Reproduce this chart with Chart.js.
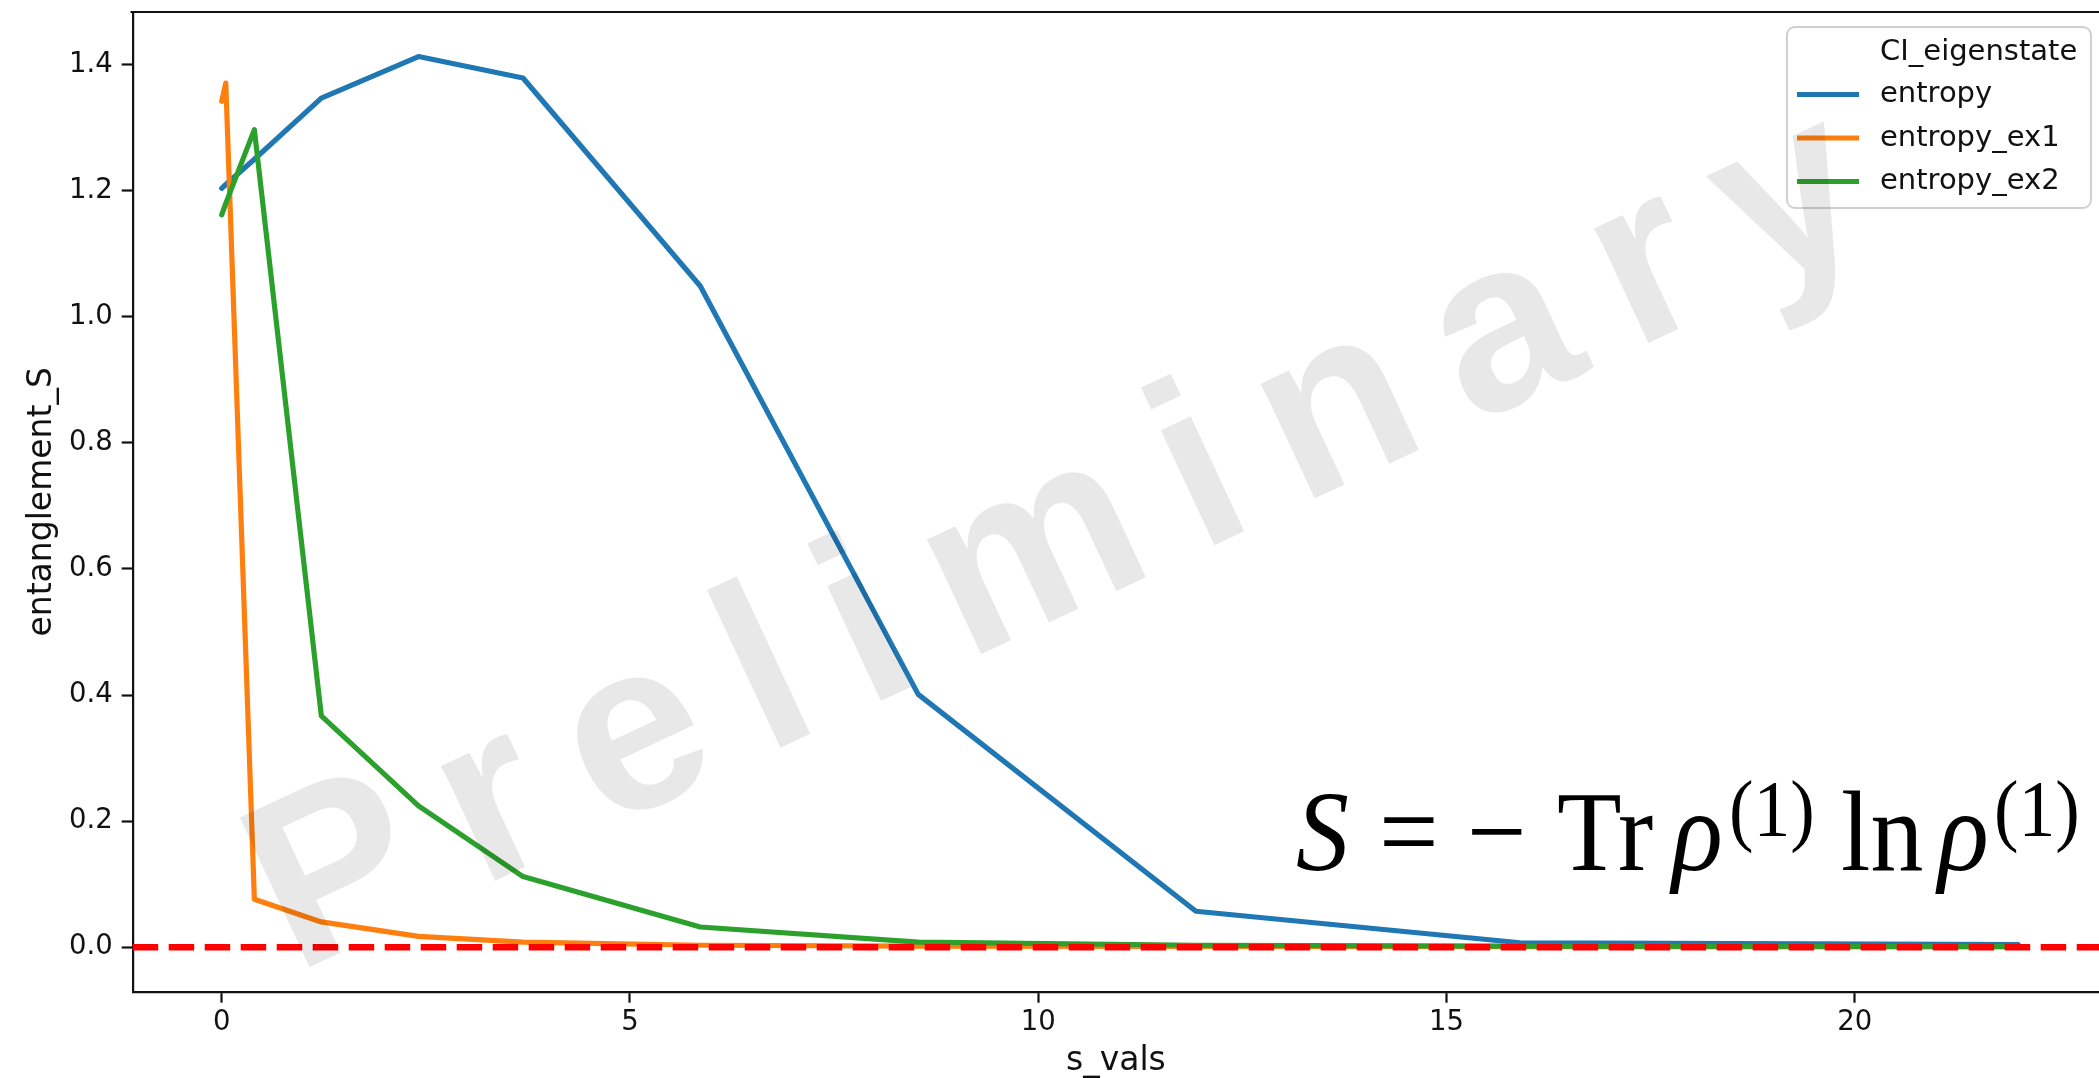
<!DOCTYPE html>
<html>
<head>
<meta charset="utf-8">
<script src="https://cdn.jsdelivr.net/npm/chart.js@4/dist/chart.umd.min.js"></script>
<style>
  html, body { margin: 0; padding: 0; background: #ffffff; overflow: hidden; }
  canvas { display: block; }
</style>
</head>
<body>
<canvas id="chart" width="2099" height="1078"></canvas>
<script>
// ---- data ----
const sVals      = [0, 0.05, 0.4, 1.22, 2.41, 3.69, 5.86, 8.53, 11.93, 15.9, 22.0];
const entropy    = [1.204, 1.21, 1.25, 1.347, 1.413, 1.379, 1.049, 0.401, 0.057, 0.007, 0.004];
const entropyEx1 = [1.342, 1.371, 0.076, 0.040, 0.017, 0.008, 0.003, 0.0015, 0.001, 0.0008, 0.0005];
const entropyEx2 = [1.162, 1.18, 1.297, 0.367, 0.224, 0.112, 0.032, 0.008, 0.003, 0.0015, 0.001];
const seriesNames = ['entropy', 'entropy_ex1', 'entropy_ex2'];
const legendTitle = 'CI_eigenstate';
const xTicks = [0, 5, 10, 15, 20];
const yTicks = [0.0, 0.2, 0.4, 0.6, 0.8, 1.0, 1.2, 1.4];
const refLevel = 0.0;           // dashed horizontal reference
const xLabel = 's_vals';
const yLabel = 'entanglement_S';
const watermark = 'Preliminary';

// ---- styling ----
const sans = "'DejaVu Sans', sans-serif";
const serif = "'Liberation Serif', 'Times New Roman', serif";
const lineColors = ['#1f77b4', '#ff7f0e', '#2ca02c'];
const seriesValues = [entropy, entropyEx1, entropyEx2];
const ink = '#111111';
const lineW = 5.2;

const datasets = seriesNames.map((name, i) => ({
  label: name,
  data: sVals.map((s, k) => ({ x: s, y: seriesValues[i][k] })),
  borderColor: lineColors[i],
  backgroundColor: lineColors[i],
  borderWidth: lineW,
  pointRadius: 0,
  tension: 0,
  fill: false,
  borderJoinStyle: 'round',
  borderCapStyle: 'round',
  order: seriesNames.length - i   // later series are painted above earlier ones
}));

// dashed reference line, top spine, legend, formula and watermark
const overlays = {
  id: 'overlays',
  afterDatasetsDraw(chart) {
    const { ctx, chartArea: a, scales: { y } } = chart;
    const py = y.getPixelForValue(refLevel);
    ctx.save();
    ctx.strokeStyle = '#ff0000';
    ctx.lineWidth = 6.5;
    ctx.setLineDash([25.5, 10.5]);
    ctx.beginPath();
    ctx.moveTo(a.left, py);
    ctx.lineTo(a.right, py);
    ctx.stroke();
    ctx.restore();

    // top spine
    ctx.save();
    ctx.strokeStyle = ink;
    ctx.lineWidth = 2.2;
    ctx.beginPath();
    ctx.moveTo(a.left - 2.2, a.top);
    ctx.lineTo(a.right, a.top);
    ctx.stroke();
    ctx.restore();
  },
  afterDraw(chart) {
    const ctx = chart.ctx;

    // legend
    const box = { left: 1787, top: 27, right: 2091, bottom: 208, r: 8 };
    ctx.save();
    ctx.beginPath();
    ctx.roundRect(box.left, box.top, box.right - box.left, box.bottom - box.top, box.r);
    ctx.fillStyle = 'rgba(255,255,255,0.8)';
    ctx.fill();
    ctx.strokeStyle = '#d0d0d0';
    ctx.lineWidth = 2;
    ctx.stroke();
    ctx.font = `29px ${sans}`;
    ctx.fillStyle = ink;
    ctx.textBaseline = 'middle';
    ctx.textAlign = 'left';
    ctx.fillText(legendTitle, 1880, 52);
    chart.data.datasets.forEach((ds, i) => {
      const yy = 94.5 + i * 43.5;
      ctx.strokeStyle = ds.borderColor;
      ctx.lineWidth = lineW;
      ctx.lineCap = 'butt';
      ctx.beginPath();
      ctx.moveTo(1797, yy);
      ctx.lineTo(1859, yy);
      ctx.stroke();
      ctx.fillText(ds.label, 1880, yy);
    });
    ctx.restore();

    // entropy formula
    const base = 870, supBase = 836;
    const big = 115, small = 80, squeeze = 0.92;
    const pieces = [
      { t: 'S',   x: 1296, it: true,  sz: big,   b: base },
      { t: '=',   x: 1379, it: false, sz: big,   b: base },
      { t: '\u2212', x: 1467, it: false, sz: big, b: base },
      { t: 'Tr',  x: 1557, it: false, sz: big,   b: base },
      { t: '\u03C1', x: 1672, it: true, sz: big, b: base },
      { t: '(1)', x: 1729, it: false, sz: small, b: supBase },
      { t: 'ln',  x: 1841, it: false, sz: big,   b: base },
      { t: '\u03C1', x: 1938, it: true, sz: big, b: base },
      { t: '(1)', x: 1994, it: false, sz: small, b: supBase }
    ];
    ctx.save();
    ctx.fillStyle = '#000000';
    ctx.textBaseline = 'alphabetic';
    ctx.textAlign = 'left';
    pieces.forEach(p => {
      ctx.save();
      ctx.translate(p.x, p.b);
      ctx.scale(squeeze, 1);
      ctx.font = `${p.it ? 'italic ' : ''}${p.sz}px ${serif}`;
      ctx.fillText(p.t, 0, 0);
      ctx.restore();
    });
    ctx.restore();

    // watermark
    ctx.save();
    ctx.translate(295, 974);
    ctx.rotate(-25 * Math.PI / 180);
    ctx.font = `bold 240px 'Liberation Sans', Arial, sans-serif`;
    ctx.letterSpacing = '44px';
    ctx.fillStyle = 'rgba(0,0,0,0.09)';
    ctx.textBaseline = 'alphabetic';
    ctx.textAlign = 'left';
    ctx.fillText(watermark, 0, 0);
    ctx.restore();
  }
};

new Chart(document.getElementById('chart'), {
  type: 'line',
  data: { datasets },
  options: {
    responsive: false,
    animation: false,
    devicePixelRatio: 1,
    events: [],
    layout: { padding: { top: 12, right: 0, bottom: 0, left: 0 } },
    plugins: { legend: { display: false }, tooltip: { enabled: false } },
    scales: {
      x: {
        type: 'linear',
        min: -1.09,
        max: 22.99,
        afterBuildTicks: s => { s.ticks = xTicks.map(v => ({ value: v })); },
        afterFit: s => { s.height = 86.3; s.paddingLeft = 0; s.paddingRight = 0; },
        ticks: {
          color: ink,
          font: { family: sans, size: 27.5 },
          padding: 4,
          maxRotation: 0,
          callback: v => String(v)
        },
        grid: { display: true, drawOnChartArea: false, drawTicks: true, tickLength: 11, tickWidth: 2.2, tickColor: ink },
        border: { display: true, color: ink, width: 2.2 },
        title: { display: true, text: xLabel, color: ink, font: { family: sans, size: 33, lineHeight: 1 }, padding: { top: 0, bottom: 0 } }
      },
      y: {
        type: 'linear',
        min: -0.0707,
        max: 1.4837,
        afterBuildTicks: s => { s.ticks = yTicks.map(v => ({ value: v })); },
        afterFit: s => { s.width = 132.7; s.paddingTop = 0; s.paddingBottom = 0; },
        ticks: {
          color: ink,
          font: { family: sans, size: 27.5 },
          padding: 9,
          callback: v => v.toFixed(1)
        },
        grid: { display: true, drawOnChartArea: false, drawTicks: true, tickLength: 11, tickWidth: 2.2, tickColor: ink },
        border: { display: true, color: ink, width: 2.2 },
        title: { display: true, text: yLabel, color: ink, font: { family: sans, size: 33, lineHeight: 1 }, padding: { top: 26, bottom: 0 } }
      }
    }
  },
  plugins: [overlays]
});
</script>
</body>
</html>
